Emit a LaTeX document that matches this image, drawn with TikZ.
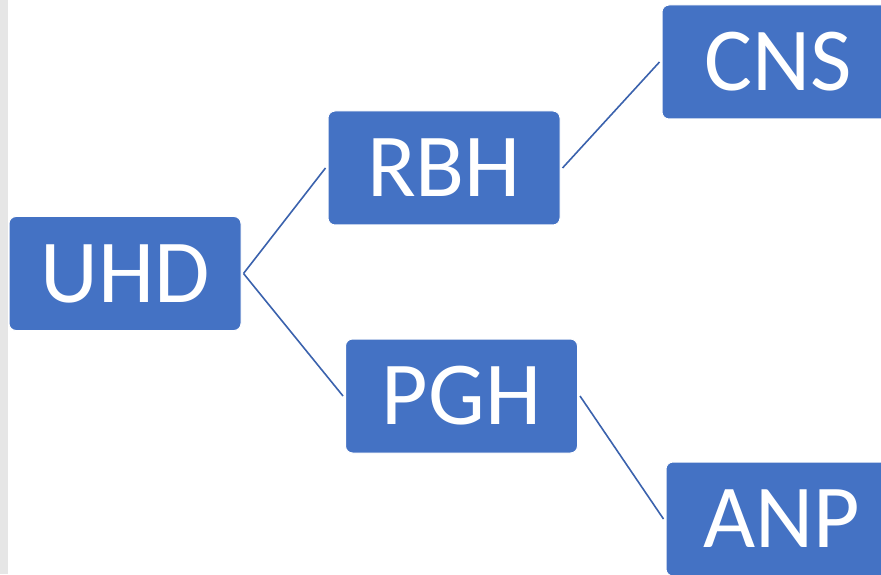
\documentclass[tikz,border=0pt]{standalone}
\usepackage{fontspec}
\setmainfont{Carlito}
\definecolor{boxblue}{HTML}{4472C4}
\definecolor{linkblue}{HTML}{3B62AD}
\definecolor{edgegray}{HTML}{E6E6E6}
\begin{document}
\begin{tikzpicture}[x=1pt,y=1pt,
  orgbox/.style={rectangle, rounded corners=7pt, fill=boxblue, draw=white, line width=1pt,
    minimum width=232pt, minimum height=114pt, inner sep=0pt,
    text=white, font=\fontsize{90}{90}\selectfont},
  link/.style={draw=linkblue, line width=1.6pt}]
  \useasboundingbox (0,0) rectangle (881,574);
  \begin{scope}
    \clip (0,0) rectangle (881,574);
    \fill[edgegray] (0,0) rectangle (8,574);
    % boxes (y measured upward from the bottom edge)
    \node[orgbox] (uhd) at (125,300.5) {UHD};
    \node[orgbox] (rbh) at (444,406) {RBH};
    \node[orgbox] (pgh) at (461.5,178) {PGH};
    \node[orgbox] (cns) at (778,512) {CNS};
    \node[orgbox] (anp) at (782,55) {ANP};
    % connectors
    \coordinate (fork) at ([xshift=2pt]uhd.east);
    \draw[link] (fork) -- ([xshift=-2pt]rbh.west);
    \draw[link] (fork) -- ([xshift=-2pt]pgh.west);
    \draw[link] ([xshift=2pt]rbh.east) -- ([xshift=-2pt]cns.west);
    \draw[link] ([xshift=2pt]pgh.east) -- ([xshift=-2pt]anp.west);
  \end{scope}
\end{tikzpicture}
\end{document}
